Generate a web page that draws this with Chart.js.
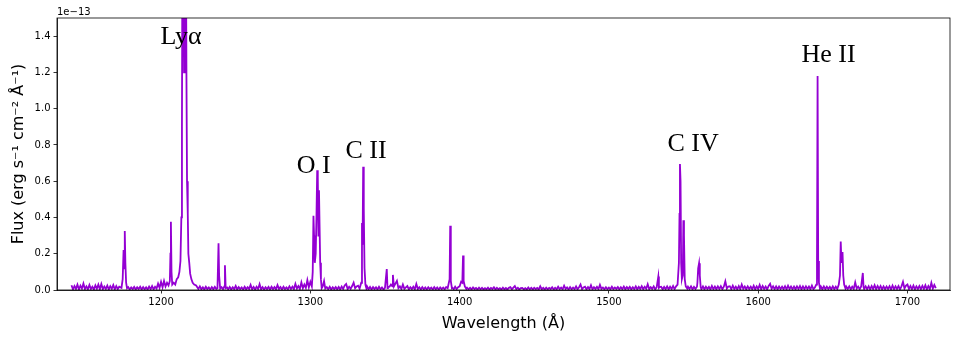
<!DOCTYPE html>
<html>
<head>
<meta charset="utf-8">
<script src="https://cdn.jsdelivr.net/npm/chart.js@4.4.1/dist/chart.umd.min.js"></script>
<style>
	html, body { margin: 0; padding: 0; background: #fff; }
	#wrap { width: 960px; height: 341px; }
</style>
</head>
<body>
<div id="wrap"><canvas id="spectrum" width="960" height="341"></canvas></div>
<script>
// wavelength in Angstrom, flux in units of 1e-13 erg/s/cm2/A
const wavelength = [
	1140,1141,1142,1143,1144,1145,1146,1147,1148,1149,
	1150,1151,1152,1153,1154,1155,1156,1157,1158,1159,
	1160,1161,1162,1163,1164,1165,1166,1167,1168,1169,
	1170,1171,1172,1173.5,1174.3,1174.9,1175.3,1175.7,1176.1,1176.6,
	1177.2,1178,1179,1180,1181,1182,1183,1184,1185,1186,
	1187,1188,1189,1190,1191,1192,1193,1194,1195,1196,
	1197,1198,1199,1200,1201,1202,1203,1204,1205,1205.9,
	1206.3,1206.6,1207.0,1207.5,1208.5,1209.5,1210.5,1211.5,1212.3,1213.0,
	1213.6,1214.0,1214.4,1214.9,1215.4,1215.9,1216.5,1217.0,1217.4,1217.9,
	1218.3,1218.9,1219.5,1220.3,1221.2,1222.2,1223.5,1225,1226,1227,
	1228,1229,1230,1231,1232,1233,1234,1235,1236,1237,
	1237.8,1238.5,1238.9,1239.6,1240.5,1241.5,1242.4,1242.8,1243.3,1244.2,
	1245,1246,1247,1248,1249,1250,1251,1252,1253,1254,
	1255,1256,1257,1258,1259,1260,1261,1262,1263,1264,
	1265,1266,1267,1268,1269,1270,1271,1272,1273,1274,
	1275,1276,1277,1278,1279,1280,1281,1282,1283,1284,
	1285,1286,1287,1288,1289,1290,1291,1292,1293,1294,
	1295,1296,1297,1298,1299,1300,1301,1301.6,1302.1,1302.5,
	1303.0,1303.6,1304.1,1304.6,1305.0,1305.4,1305.8,1306.2,1306.6,1307.1,
	1307.6,1308.3,1309.2,1310,1311,1312,1313,1314,1315,1316,
	1317,1318,1319,1320,1321,1322,1323,1324,1325,1326,
	1327,1328,1329,1330,1331,1332,1333,1334.1,1334.6,1335.0,
	1335.4,1335.8,1336.3,1336.9,1337.6,1338,1339,1340,1341,1342,
	1343,1344,1345,1346,1347,1348,1349,1350,1351.2,1351.7,
	1352,1353,1354,1355,1355.3,1356,1357,1358,1359,1360,
	1361,1362,1363,1364,1365,1366,1367,1368,1369,1370,
	1371,1372,1373,1374,1375,1376,1377,1378,1379,1380,
	1381,1382,1383,1384,1385,1386,1387,1388,1389,1390,
	1391,1392,1393.3,1393.7,1394.1,1394.8,1395,1396,1397,1398,
	1399,1400,1401,1401.8,1402.3,1402.7,1403.5,1404.5,1405,1406,
	1407,1408,1409,1410,1411,1412,1413,1414,1415,1416,
	1417,1418,1419,1420,1421,1422,1423,1424,1425,1426,
	1427,1428,1429,1430,1431,1432,1433,1434,1435,1436,
	1437,1438,1439,1440,1441,1442,1443,1444,1445,1446,
	1447,1448,1449,1450,1451,1452,1453,1454,1455,1456,
	1457,1458,1459,1460,1461,1462,1463,1464,1465,1466,
	1467,1468,1469,1470,1471,1472,1473,1474,1475,1476,
	1477,1478,1479,1480,1481,1482,1483,1484,1485,1486,
	1487,1488,1489,1490,1491,1492,1493,1494,1495,1496,
	1497,1498,1499,1500,1501,1502,1503,1504,1505,1506,
	1507,1508,1509,1510,1511,1512,1513,1514,1515,1516,
	1517,1518,1519,1520,1521,1522,1523,1524,1525,1526,
	1527,1528,1529,1530,1531,1532,1533.1,1533.5,1534,1535,
	1536,1537,1538,1539,1540,1541,1542,1543,1544,1545,
	1546,1546.9,1547.3,1547.6,1548.0,1548.4,1548.9,1549.5,1549.9,1550.3,
	1550.8,1551.5,1552.5,1553,1554,1555,1556,1557,1558,1559,
	1559.3,1559.8,1560.4,1560.9,1561.5,1562,1563,1564,1565,1566,
	1567,1568,1569,1570,1571,1572,1573,1574,1575,1576,
	1577,1578,1579,1580,1581,1582,1583,1584,1585,1586,
	1587,1588,1589,1590,1591,1592,1593,1594,1595,1596,
	1597,1598,1599,1600,1601,1602,1603,1604,1605,1606,
	1607,1608,1609,1610,1611,1612,1613,1614,1615,1616,
	1617,1618,1619,1620,1621,1622,1623,1624,1625,1626,
	1627,1628,1629,1630,1631,1632,1633,1634,1635,1636,
	1637,1638,1638.9,1639.4,1639.8,1640.2,1640.7,1641.4,1642,1643,
	1644,1645,1646,1647,1648,1649,1650,1651,1652,1653,
	1654,1654.8,1655.3,1655.8,1656.5,1657.0,1657.6,1658.5,1659,1660,
	1661,1662,1663,1664,1665,1666,1667,1668,1669,1670.1,
	1670.6,1671,1672,1673,1674,1675,1676,1677,1678,1679,
	1680,1681,1682,1683,1684,1685,1686,1687,1688,1689,
	1690,1691,1692,1693,1694,1695,1696,1697,1698,1699,
	1700,1701,1702,1703,1704,1705,1706,1707,1708,1709,
	1710,1711,1712,1713,1714,1715,1716,1717,1718,1719
];
const flux = [
	0.026,0.004,0.022,0.006,0.030,0.003,0.024,0.008,0.036,0.005,
	0.020,0.004,0.028,0.006,0.018,0.003,0.025,0.007,0.030,0.004,
	0.033,0.005,0.019,0.006,0.024,0.003,0.021,0.007,0.027,0.004,
	0.022,0.005,0.018,0.012,0.060,0.220,0.120,0.325,0.150,0.040,
	0.010,0.016,0.003,0.014,0.005,0.017,0.003,0.015,0.006,0.018,
	0.003,0.016,0.004,0.015,0.003,0.019,0.005,0.022,0.004,0.018,
	0.008,0.035,0.012,0.045,0.015,0.050,0.020,0.040,0.025,0.050,
	0.200,0.376,0.100,0.030,0.040,0.030,0.060,0.070,0.100,0.160,
	0.400,0.900,2.200,1.900,1.200,1.800,2.300,1.200,0.600,0.420,
	0.200,0.150,0.090,0.060,0.040,0.030,0.025,0.006,0.020,0.004,
	0.015,0.003,0.018,0.005,0.014,0.003,0.016,0.004,0.017,0.006,
	0.010,0.258,0.080,0.008,0.016,0.005,0.020,0.137,0.010,0.014,
	0.004,0.017,0.003,0.015,0.005,0.022,0.003,0.016,0.005,0.014,
	0.003,0.018,0.004,0.015,0.006,0.028,0.004,0.017,0.003,0.018,
	0.006,0.032,0.004,0.016,0.003,0.015,0.005,0.017,0.003,0.018,
	0.005,0.016,0.004,0.027,0.006,0.016,0.003,0.018,0.005,0.014,
	0.004,0.020,0.006,0.018,0.005,0.034,0.008,0.022,0.006,0.042,
	0.010,0.030,0.012,0.055,0.015,0.045,0.020,0.100,0.410,0.300,
	0.150,0.200,0.400,0.660,0.620,0.300,0.550,0.350,0.150,0.060,
	0.010,0.020,0.050,0.008,0.016,0.004,0.018,0.003,0.015,0.005,
	0.016,0.004,0.017,0.003,0.019,0.006,0.025,0.033,0.005,0.018,
	0.007,0.022,0.040,0.010,0.020,0.024,0.008,0.040,0.370,0.250,
	0.680,0.450,0.120,0.030,0.008,0.020,0.004,0.017,0.003,0.016,
	0.005,0.015,0.003,0.018,0.004,0.014,0.003,0.012,0.115,0.010,
	0.016,0.018,0.030,0.020,0.083,0.020,0.035,0.050,0.010,0.020,
	0.006,0.030,0.006,0.014,0.022,0.004,0.015,0.005,0.018,0.004,
	0.033,0.005,0.015,0.003,0.016,0.004,0.014,0.003,0.015,0.005,
	0.013,0.003,0.016,0.004,0.014,0.003,0.014,0.005,0.013,0.004,
	0.016,0.010,0.060,0.354,0.050,0.012,0.014,0.004,0.018,0.005,
	0.015,0.020,0.045,0.040,0.190,0.050,0.020,0.006,0.013,0.004,
	0.012,0.003,0.014,0.005,0.011,0.003,0.013,0.004,0.012,0.003,
	0.010,0.004,0.013,0.003,0.011,0.005,0.015,0.003,0.012,0.004,
	0.010,0.003,0.013,0.004,0.011,0.003,0.012,0.016,0.004,0.013,
	0.022,0.005,0.012,0.003,0.011,0.012,0.004,0.010,0.003,0.014,
	0.004,0.012,0.003,0.012,0.005,0.011,0.003,0.020,0.004,0.012,
	0.003,0.013,0.004,0.011,0.005,0.015,0.003,0.012,0.004,0.018,
	0.005,0.013,0.004,0.024,0.006,0.014,0.003,0.016,0.004,0.013,
	0.005,0.020,0.004,0.015,0.030,0.005,0.014,0.018,0.004,0.016,
	0.005,0.026,0.004,0.015,0.006,0.017,0.005,0.028,0.006,0.014,
	0.004,0.015,0.005,0.013,0.004,0.018,0.005,0.014,0.006,0.016,
	0.004,0.015,0.005,0.019,0.004,0.016,0.006,0.017,0.004,0.015,
	0.005,0.020,0.004,0.017,0.006,0.021,0.005,0.018,0.007,0.032,
	0.005,0.016,0.006,0.020,0.004,0.015,0.074,0.012,0.016,0.018,
	0.004,0.017,0.005,0.020,0.004,0.018,0.006,0.022,0.005,0.020,
	0.030,0.150,0.420,0.695,0.600,0.150,0.060,0.080,0.385,0.300,
	0.060,0.020,0.008,0.018,0.006,0.020,0.004,0.017,0.006,0.018,
	0.040,0.120,0.148,0.080,0.015,0.005,0.020,0.004,0.018,0.006,
	0.017,0.003,0.022,0.005,0.019,0.004,0.020,0.006,0.021,0.005,
	0.018,0.048,0.008,0.019,0.021,0.005,0.024,0.006,0.018,0.004,
	0.022,0.005,0.030,0.007,0.019,0.004,0.020,0.006,0.018,0.005,
	0.023,0.004,0.020,0.006,0.028,0.005,0.022,0.006,0.019,0.004,
	0.022,0.034,0.007,0.020,0.005,0.020,0.004,0.019,0.006,0.018,
	0.005,0.021,0.004,0.024,0.006,0.019,0.005,0.019,0.004,0.020,
	0.006,0.022,0.004,0.020,0.005,0.020,0.006,0.019,0.004,0.024,
	0.005,0.014,0.030,0.150,1.180,0.160,0.040,0.008,0.019,0.004,
	0.020,0.005,0.018,0.006,0.017,0.004,0.020,0.005,0.018,0.006,
	0.030,0.080,0.267,0.150,0.210,0.080,0.030,0.008,0.019,0.006,
	0.020,0.004,0.018,0.006,0.042,0.008,0.019,0.005,0.020,0.094,
	0.015,0.006,0.020,0.005,0.021,0.004,0.022,0.006,0.026,0.005,
	0.022,0.006,0.022,0.004,0.020,0.005,0.019,0.006,0.021,0.004,
	0.024,0.005,0.020,0.006,0.022,0.004,0.020,0.045,0.008,0.024,
	0.030,0.006,0.022,0.005,0.024,0.004,0.020,0.006,0.022,0.005,
	0.023,0.006,0.026,0.004,0.022,0.005,0.040,0.008,0.028,0.010
];

const xTicks = [1200, 1300, 1400, 1500, 1600, 1700];
const yTicks = [0.0, 0.2, 0.4, 0.6, 0.8, 1.0, 1.2, 1.4];

// emission line labels: text, wavelength and flux where the text sits
const lineNames = ['Lyα', 'O I', 'C II', 'C IV', 'He II'];
const lineWave = [1213.4, 1302.3, 1337.3, 1556.4, 1647.1];
const lineFlux = [1.356, 0.646, 0.729, 0.769, 1.255];

const sans = 'DejaVu Sans';

const frameAndLabels = {
	id: 'frameAndLabels',
	afterDraw( chart ){
		const { ctx, chartArea: a, scales } = chart;
		ctx.save();
		ctx.strokeStyle = '#000';
		ctx.lineWidth = 0.8;
		ctx.strokeRect( a.left, a.top, a.right - a.left, a.bottom - a.top );

		// offset text of the y axis
		ctx.fillStyle = '#000';
		ctx.font = `10px "${sans}"`;
		ctx.textAlign = 'left';
		ctx.textBaseline = 'alphabetic';
		ctx.fillText( '1e\u221213', a.left, a.top - 3 );

		ctx.font = '26px "Liberation Serif"';
		ctx.textAlign = 'center';
		lineNames.forEach( ( name, i ) => {
			ctx.fillText( name, scales.x.getPixelForValue( lineWave[i] ), scales.y.getPixelForValue( lineFlux[i] ) );
		});
		ctx.restore();
	}
};

const axisStyle = {
	grid: { display: true, drawOnChartArea: false, drawTicks: true, tickLength: 3.5, color: '#000', lineWidth: 0.8 },
	border: { display: true, color: '#000', width: 0.8 }
};

new Chart( document.getElementById( 'spectrum' ), {
	type: 'line',
	data: {
		datasets: [{
			data: wavelength.map( ( w, i ) => ({ x: w, y: flux[i] }) ),
			borderColor: 'darkviolet',
			borderWidth: 1.8,
			pointRadius: 0,
			tension: 0,
			fill: false
		}]
	},
	options: {
		responsive: false,
		animation: false,
		devicePixelRatio: 1,
		layout: { padding: { top: 18, right: 10, left: 0, bottom: 0 } },
		plugins: { legend: { display: false }, tooltip: { enabled: false } },
		scales: {
			x: {
				type: 'linear',
				min: 1130.3,
				max: 1728.5,
				...axisStyle,
				afterBuildTicks: s => { s.ticks = xTicks.map( v => ({ value: v }) ); },
				afterFit: s => { s.height = 51; },
				ticks: { color: '#000', padding: 3, font: { family: sans, size: 10 }, callback: v => String( v ), maxRotation: 0 },
				title: { display: true, text: 'Wavelength (Å)', color: '#000', font: { family: sans, size: 16 }, padding: { bottom: 8 } }
			},
			y: {
				min: 0,
				max: 1.5,
				...axisStyle,
				afterBuildTicks: s => { s.ticks = yTicks.map( v => ({ value: v }) ); },
				afterFit: s => { s.width = 57; },
				ticks: { color: '#000', padding: 3, font: { family: sans, size: 10 }, callback: v => v.toFixed( 1 ) },
				title: { display: true, text: 'Flux (erg s⁻¹ cm⁻² Å⁻¹)', color: '#000', font: { family: sans, size: 16 }, padding: { top: 9 } }
			}
		}
	},
	plugins: [ frameAndLabels ]
});
</script>
</body>
</html>
